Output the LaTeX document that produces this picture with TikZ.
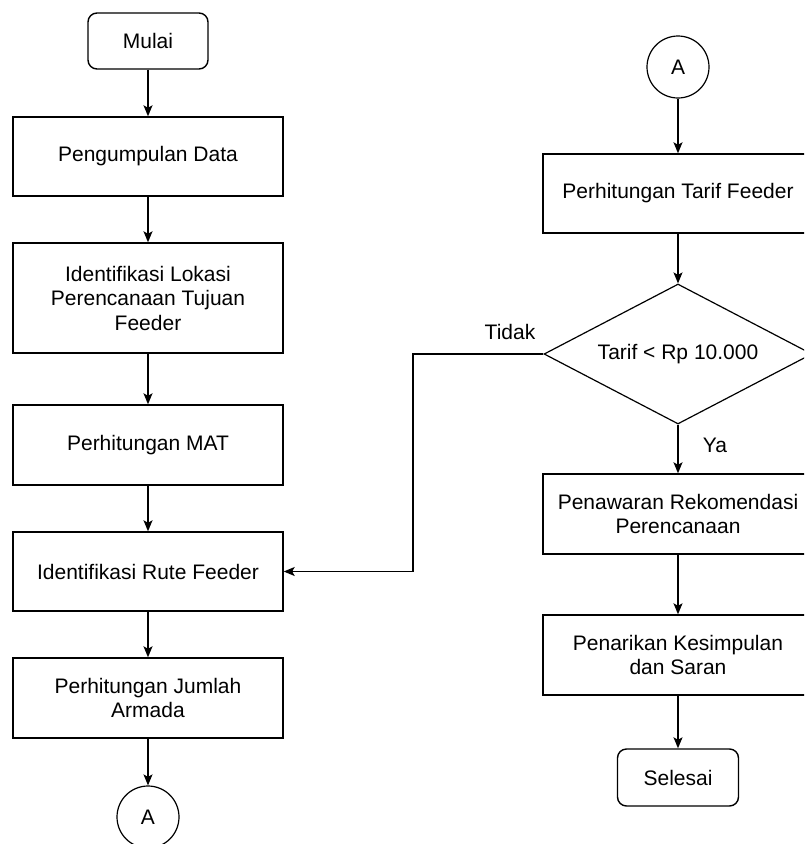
\documentclass[tikz,border=0pt]{standalone}
\usepackage{fontspec}
\setmainfont{Liberation Sans}
\usetikzlibrary{shapes.geometric,arrows.meta}
\begin{document}
\begin{tikzpicture}[x=1pt,y=-1pt,
  every node/.style={font=\fontsize{21pt}{24.5pt}\selectfont, text=black},
  box/.style={draw, line width=1.4pt, minimum width=270pt, inner sep=0pt, align=center},
  term/.style={draw, line width=1.4pt, rounded corners=9pt, minimum width=120pt, minimum height=56pt, inner sep=0pt},
  conn/.style={draw, circle, line width=1.2pt, minimum size=62pt, inner sep=0pt},
  dec/.style={draw, diamond, line width=1.2pt, shape aspect=1.914, minimum width=268pt, minimum height=140pt, inner sep=0pt},
  arr/.style={line width=1.3pt, -{Stealth[length=11pt,width=9pt,inset=2.5pt]}},
  lbl/.style={inner sep=0pt}]
\useasboundingbox (0,0) rectangle (804,844);
\clip (0,0) rectangle (804,844);
\fill[white] (0,0) rectangle (804,844);
% left column
\node[term] (mulai) at (148,41) {Mulai};
\node[box, minimum height=79pt] (n1) at (148,156.5) {Pengumpulan Data};
\node[box, minimum height=110pt] (n2) at (148,298) {Identifikasi Lokasi\\Perencanaan Tujuan\\Feeder};
\node[box, minimum height=80pt] (n3) at (148,445) {Perhitungan MAT};
\node[box, minimum height=79pt] (n4) at (148,571.5) {Identifikasi Rute Feeder};
\node[box, minimum height=80pt] (n5) at (148,698) {Perhitungan Jumlah\\Armada};
\node[conn] (ca1) at (148,817) {A};
% right column
\node[conn] (ca2) at (678,67) {A};
\node[box, minimum height=79pt] (r1) at (678,193.5) {Perhitungan Tarif Feeder};
\node[dec] (d) at (678,354) {Tarif < Rp 10.000};
\node[box, minimum height=80pt] (r2) at (678,514) {Penawaran Rekomendasi\\Perencanaan};
\node[box, minimum height=80pt] (r3) at (678,655) {Penarikan Kesimpulan\\dan Saran};
\node[term, minimum width=121pt, minimum height=57pt] (sel) at (678,777.5) {Selesai};
% connectors
\draw[arr] (mulai) -- (n1);
\draw[arr] (n1) -- (n2);
\draw[arr] (n2) -- (n3);
\draw[arr] (n3) -- (n4);
\draw[arr] (n4) -- (n5);
\draw[arr] (n5) -- (ca1);
\draw[arr] (ca2) -- (r1);
\draw[arr] (r1) -- (d);
\draw[arr] (d) -- (r2);
\draw[arr] (r2) -- (r3);
\draw[arr] (r3) -- (sel);
\coordinate (bend) at (413,354);
\draw[arr] (d.west) -- (bend) |- (n4.east);
\node[lbl] (tidak) at (510,332) {Tidak};
\node[lbl] (ya) at (715,445) {Ya};
\end{tikzpicture}
\end{document}
